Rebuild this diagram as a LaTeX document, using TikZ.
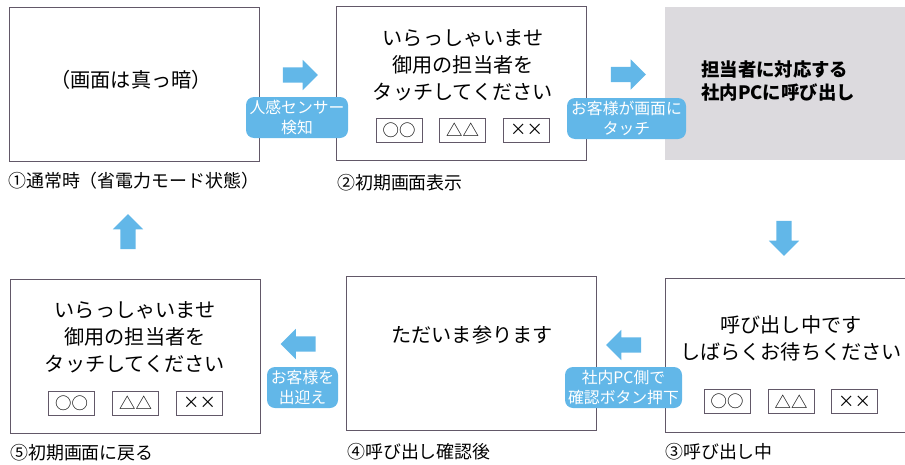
\documentclass[tikz,border=0pt]{standalone}
\usepackage{fontspec}
\setmainfont{Noto Sans CJK JP}
\usetikzlibrary{positioning, shapes.arrows}
\definecolor{guideblue}{RGB}{98,183,232}
\definecolor{framegray}{RGB}{98,88,104}
\definecolor{pcgray}{RGB}{220,218,222}

\begin{document}
\begin{tikzpicture}[x=0.3mm, y=-0.3mm]
\tikzstyle{screen}=[draw=framegray, line width=0.8pt, minimum width=75mm, minimum height=46.2mm, inner sep=0pt]
\tikzstyle{msg}=[align=center, inner sep=0pt, font=\fontsize{17.2}{23}\selectfont]
\tikzstyle{btn}=[draw=framegray, line width=0.7pt, minimum width=13.8mm, minimum height=7.2mm, inner sep=0pt, font=\fontsize{14}{14}\selectfont]
\tikzstyle{caption}=[anchor=west, inner sep=0pt, font=\fontsize{15.3}{15.3}\selectfont]
\tikzstyle{trigger}=[fill=guideblue, text=white, rounded corners=2.4mm, align=center, inner sep=0pt, minimum height=12.3mm, font=\fontsize{13.5}{16.5}\selectfont]
\tikzstyle{flow}=[single arrow, fill=guideblue, minimum height=10.5mm, inner sep=2.2mm, single arrow head extend=2.3mm, single arrow head indent=0pt]
\useasboundingbox (0,0) rectangle (905,464);
% top row
\node[screen] (idle) at (134,84) {};
\node[msg] (idle-text) at (131,80) {（画面は真っ暗）};
\node[caption] (idle-cap) at (8,181) {①通常時（省電力モード状態）};
\node[screen] (welcome) at (461.5,83) {};
\node[msg] (welcome-text) at (463,65) {いらっしゃいませ\\御用の担当者を\\タッチしてください};
\node[btn] (welcome-a) at (399,130) {○○};
\node[btn] (welcome-b) at (462.5,130) {△△};
\node[btn] (welcome-c) at (526.5,130) {××};
\node[caption] (welcome-cap) at (337,183) {②初期画面表示};
\node[fill=pcgray, minimum width=73.5mm, minimum height=45.9mm] (pc) at (787.5,83.5) {};
\node[align=left, anchor=west, inner sep=0pt, font=\fontsize{15.7}{19}\selectfont\bfseries] (pc-text) at (701,81) {担当者に対応する\\社内PCに呼び出し};
% bottom row
\node[screen, minimum width=73.5mm] (waiting) at (787.5,355) {};
\node[msg] (waiting-text) at (791,338.5) {呼び出し中です\\しばらくお待ちください};
\node[btn] (waiting-a) at (727,401.5) {○○};
\node[btn] (waiting-b) at (791,401.5) {△△};
\node[btn] (waiting-c) at (854.5,401.5) {××};
\node[caption] (waiting-cap) at (665,452) {③呼び出し中};
\node[screen] (coming) at (471,353) {};
\node[msg] (coming-text) at (472,335) {ただいま参ります};
\node[caption] (coming-cap) at (347,452) {④呼び出し確認後};
\node[screen] (back) at (135,356) {};
\node[msg] (back-text) at (135,337) {いらっしゃいませ\\御用の担当者を\\タッチしてください};
\node[btn] (back-a) at (71.5,403) {○○};
\node[btn] (back-b) at (135.5,403) {△△};
\node[btn] (back-c) at (199.5,403) {××};
\node[caption] (back-cap) at (10,453) {⑤初期画面に戻る};
% flow arrows and triggers
\node[flow] (arr-sensor) at (296.5,75) {};
\node[trigger, minimum width=30.6mm] (sensor) at (297,117.5) {人感センサー\\検知};
\node[flow] (arr-touch) at (624.5,74.5) {};
\node[trigger, minimum width=35.7mm] (touch) at (626.5,118.5) {お客様が画面に\\タッチ};
\node[flow, shape border rotate=270] (arr-down) at (784,234.5) {};
\node[flow, shape border rotate=180] (arr-confirm) at (627.5,345) {};
\node[trigger, minimum width=35.1mm] (confirm) at (623.5,387.5) {社内PC側で\\確認ボタン押下};
\node[flow, shape border rotate=180] (arr-greet) at (302,344) {};
\node[trigger, minimum width=21.3mm] (greet) at (302.5,387.5) {お客様を\\出迎え};
\node[flow, shape border rotate=90] (arr-up) at (128,235.5) {};
\end{tikzpicture}
\end{document}
